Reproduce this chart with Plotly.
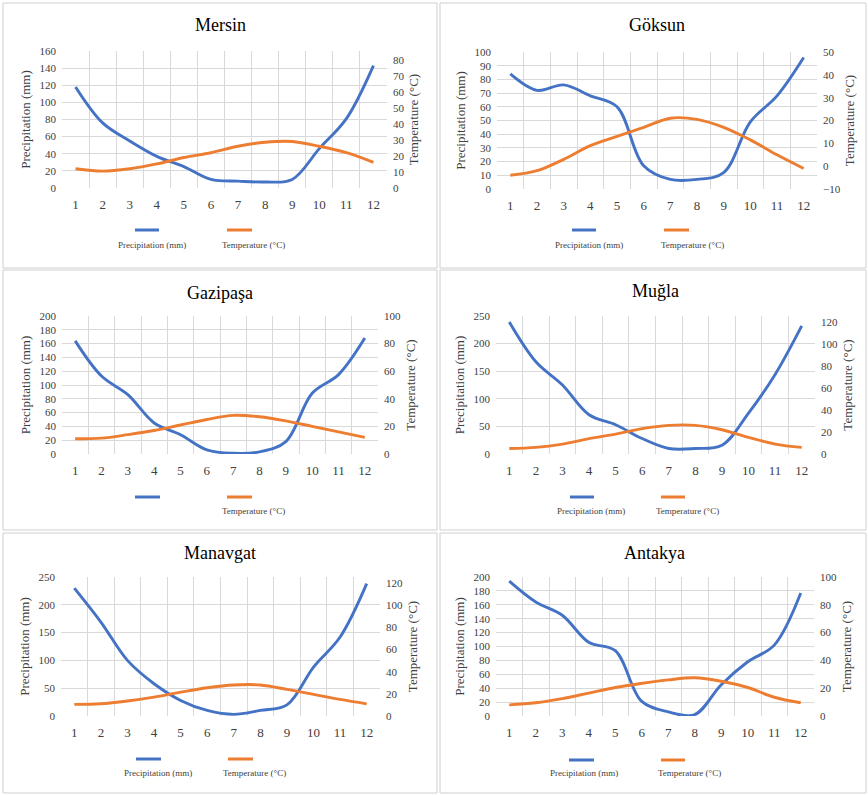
import plotly.graph_objects as go

# ---------------- data ----------------
months = list(range(1, 13))
month_labels = [str(m) for m in months]

stations = ["Mersin", "Göksun", "Gazipaşa", "Muğla", "Manavgat", "Antakya"]

mersin_precip = [118, 76, 55, 37, 25, 10, 8, 7, 10, 46, 81, 143]
mersin_temp = [12, 10.5, 12, 15, 19, 22, 26, 28.5, 29, 26, 22, 16]
goksun_precip = [84, 72, 76, 68, 60, 17, 7, 7, 12, 49, 68, 96]
goksun_temp = [-4, -2, 3, 9, 13, 17, 21, 20.5, 17, 11.5, 5, -1]
gazipasa_precip = [164, 113, 86, 45, 28, 6, 1, 3, 18, 88, 115, 168]
gazipasa_temp = [11, 11.5, 14, 17, 21, 25, 28, 27, 24, 20, 16, 12]
mugla_precip = [239, 167, 125, 71, 53, 28, 10, 10, 16, 74, 144, 232]
mugla_temp = [5, 6, 9, 14, 18, 23, 26, 26, 22, 15, 9, 6]
manavgat_precip = [230, 169, 100, 58, 28, 10, 3, 10, 20, 88, 142, 238]
manavgat_temp = [10.5, 11, 13.5, 17, 21.5, 25.5, 28, 28, 24, 19.5, 15, 11]
antakya_precip = [194, 164, 145, 106, 94, 21, 6, 2, 45, 78, 102, 177]
antakya_temp = [8, 9.5, 12.5, 16.5, 20.5, 23.5, 26, 27.5, 25, 20.5, 13.5, 9.5]

precip_series = [mersin_precip, goksun_precip, gazipasa_precip,
                 mugla_precip, manavgat_precip, antakya_precip]
temp_series = [mersin_temp, goksun_temp, gazipasa_temp,
               mugla_temp, manavgat_temp, antakya_temp]

precip_name = "Precipitation (mm)"
temp_name = "Temperature (°C)"
precip_legend_labels = [precip_name, precip_name, "", precip_name, precip_name, precip_name]
temp_legend_labels = [temp_name] * 6

precip_max = [160, 100, 200, 250, 250, 200]
precip_dtick = [20, 10, 20, 50, 50, 20]
temp_range = [[0, 85.4], [-10, 50], [0, 100], [0, 125.2], [0, 125.4], [0, 100]]
temp_dtick = [10, 10, 20, 20, 20, 20]

# ---------------- layout (pixels) ----------------
W, H = 868, 795
BLUE = "#4472C4"
ORANGE = "#ED7D31"
GRID = "#d9d9d9"
TXT = "#404040"
FONT = "Liberation Serif, DejaVu Serif, serif"

# frame, plot-area, title, legend geometry for each panel
frames = [(3, 3, 437, 268), (440, 3, 866, 268),
          (3, 270, 437, 530), (440, 270, 866, 530),
          (3, 533, 437, 793), (440, 533, 866, 793)]
plots = [(62, 51, 387, 188), (497, 52, 817, 189),
         (62, 316, 378, 454), (496, 316, 815, 454),
         (61, 577, 380, 716), (496, 577, 814, 716)]
titles = [(221, 25), (657, 25), (220, 293), (655, 291), (220, 553), (654, 553)]
# (line_y, text_y, blue_x0, blue_x1, blue_text_cx, orange_x0, orange_x1, orange_text_cx)
legends = [(230, 245, 135, 159, 152, 227, 252, 253),
           (230, 245, 572, 596, 589, 664, 689, 692),
           (497, 511, 135, 160, 152, 227, 252, 253),
           (497, 511, 570, 594, 591, 661, 685, 687),
           (759, 773, 136, 161, 158, 228, 253, 254),
           (760, 773, 569, 594, 584, 661, 685, 689)]


def px(x):
    return x / W


def py(y):
    return 1 - y / H


fig = go.Figure()
shapes = []
annotations = []
layout_axes = {}

for i in range(6):
    n = i + 1
    xref = "x" if n == 1 else f"x{n}"
    yl_n = 2 * i + 1
    yr_n = 2 * i + 2
    ylref = "y" if yl_n == 1 else f"y{yl_n}"
    yrref = f"y{yr_n}"

    fig.add_trace(go.Scatter(
        x=months, y=precip_series[i], xaxis=xref, yaxis=ylref,
        mode="lines", name=precip_name, showlegend=False,
        line=dict(color=BLUE, width=2.9, shape="spline", smoothing=1.0)))
    fig.add_trace(go.Scatter(
        x=months, y=temp_series[i], xaxis=xref, yaxis=yrref,
        mode="lines", name=temp_name, showlegend=False,
        line=dict(color=ORANGE, width=2.9, shape="spline", smoothing=1.0)))

    x0, y0, x1, y1 = plots[i]
    xkey = "xaxis" if n == 1 else f"xaxis{n}"
    ylkey = "yaxis" if yl_n == 1 else f"yaxis{yl_n}"
    yrkey = f"yaxis{yr_n}"

    layout_axes[xkey] = dict(
        domain=[px(x0), px(x1)], anchor=ylref, range=[0.5, 12.5],
        tickmode="array", tickvals=months, ticktext=month_labels,
        showgrid=False, zeroline=False, showline=False, ticks="",
        ticklabelstandoff=7, automargin=False,
        tickfont=dict(family=FONT, size=13, color=TXT),
        minor=dict(tickmode="array", tickvals=[m - 0.5 for m in months] + [12.5],
                   showgrid=True, gridcolor=GRID, gridwidth=1, ticks=""),
        fixedrange=True)
    layout_axes[ylkey] = dict(
        domain=[py(y1), py(y0)], anchor=xref, range=[0, precip_max[i]],
        tick0=0, dtick=precip_dtick[i], showgrid=True, gridcolor=GRID,
        gridwidth=1, zeroline=False, showline=False, ticks="",
        ticklabelstandoff=5, automargin=False,
        tickfont=dict(family=FONT, size=11, color=TXT),
        title=dict(text=precip_name, standoff=5,
                   font=dict(family=FONT, size=13, color=TXT)),
        fixedrange=True)
    layout_axes[yrkey] = dict(
        overlaying=ylref, side="right", anchor=xref, range=temp_range[i],
        tick0=0, dtick=temp_dtick[i], showgrid=False, zeroline=False,
        showline=False, ticks="", ticklabelstandoff=5, automargin=False,
        tickfont=dict(family=FONT, size=11, color=TXT),
        title=dict(text=temp_name, standoff=5,
                   font=dict(family=FONT, size=13, color=TXT)),
        fixedrange=True)

    fx0, fy0, fx1, fy1 = frames[i]
    shapes.append(dict(type="rect", xref="paper", yref="paper",
                       x0=px(fx0), x1=px(fx1), y0=py(fy1), y1=py(fy0),
                       line=dict(color="#cfcfcf", width=1), layer="below"))

    tx, ty = titles[i]
    annotations.append(dict(text=stations[i], xref="paper", yref="paper",
                            x=px(tx), y=py(ty), showarrow=False,
                            xanchor="center", yanchor="middle",
                            font=dict(family=FONT, size=18, color="#000000")))

    ly, lty, bx0, bx1, btx, ox0, ox1, otx = legends[i]
    shapes.append(dict(type="line", xref="paper", yref="paper",
                       x0=px(bx0), x1=px(bx1), y0=py(ly), y1=py(ly),
                       line=dict(color=BLUE, width=3)))
    shapes.append(dict(type="line", xref="paper", yref="paper",
                       x0=px(ox0), x1=px(ox1), y0=py(ly), y1=py(ly),
                       line=dict(color=ORANGE, width=3)))
    if precip_legend_labels[i]:
        annotations.append(dict(text=precip_legend_labels[i], xref="paper", yref="paper",
                                x=px(btx), y=py(lty), showarrow=False,
                                xanchor="center", yanchor="middle",
                                font=dict(family=FONT, size=9, color=TXT)))
    annotations.append(dict(text=temp_legend_labels[i], xref="paper", yref="paper",
                            x=px(otx), y=py(lty), showarrow=False,
                            xanchor="center", yanchor="middle",
                            font=dict(family=FONT, size=9, color=TXT)))

fig.update_layout(
    width=W, height=H,
    margin=dict(l=0, r=0, t=0, b=0, pad=0, autoexpand=False),
    paper_bgcolor="white", plot_bgcolor="white",
    showlegend=False,
    shapes=shapes, annotations=annotations,
    font=dict(family=FONT, color=TXT),
    **layout_axes)

fig.write_html(
    "out.html",
    config={"displayModeBar": False},
    post_script="document.body.style.margin='0';document.body.style.overflow='hidden';")
